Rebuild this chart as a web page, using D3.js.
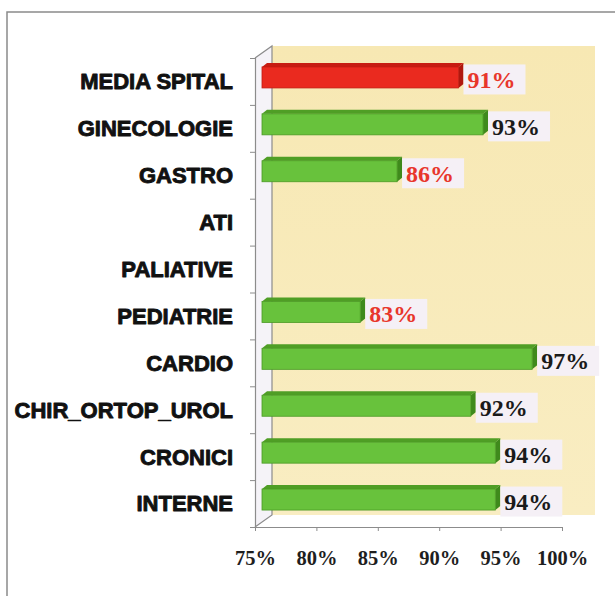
<!DOCTYPE html>
<html>
<head>
<meta charset="utf-8">
<script src="https://cdn.jsdelivr.net/npm/d3@7"></script>
<style>
  html, body { margin: 0; padding: 0; background: #ffffff; }
  svg { display: block; }
</style>
</head>
<body>
<script>
// Sections, top to bottom, and their percentages (null = no value reported)
const categories = ["MEDIA SPITAL", "GINECOLOGIE", "GASTRO", "ATI", "PALIATIVE",
                    "PEDIATRIE", "CARDIO", "CHIR_ORTOP_UROL", "CRONICI", "INTERNE"];
const values = [0.91, 0.93, 0.86, null, null, 0.83, 0.97, 0.92, 0.94, 0.94];
// Which bar is the hospital average (drawn red)
const highlight = ["MEDIA SPITAL"];
// Labels shown in red (below target)
const redLabels = ["MEDIA SPITAL", "GASTRO", "PEDIATRIE"];
const xTicks = [0.75, 0.80, 0.85, 0.90, 0.95, 1.00];

const W = 615, H = 596;
const svg = d3.select("body").append("svg").attr("width", W).attr("height", H);

// outer frame
svg.append("rect").attr("x", 7).attr("y", 12).attr("width", 640).attr("height", 620)
  .attr("fill", "none").attr("stroke", "#8a8a8a").attr("stroke-width", 1.5);

const x = d3.scaleLinear().domain([0.75, 1.0]).range([255, 562]);
const y = d3.scaleBand().domain(categories).range([58, 527]).padding(0);

// 3D depth of the plot box
const DX = 17, DY = 12;
const x0 = x.range()[0], x1 = x.range()[1];
const yTop = y.range()[0], yBot = y.range()[1];

const defs = svg.append("defs");
const wall = defs.append("linearGradient").attr("id", "wall").attr("x1", 0).attr("y1", 0).attr("x2", 0).attr("y2", 1);
wall.append("stop").attr("offset", "0%").attr("stop-color", "#f7e8b3");
wall.append("stop").attr("offset", "100%").attr("stop-color", "#f9edc2");

// side wall
svg.append("path")
  .attr("d", `M${x0},${yTop} L${x0 + DX},${yTop - DY} L${x0 + DX},${yBot - DY} L${x0},${yBot} Z`)
  .attr("fill", "#f5f3f8");
// back wall
svg.append("rect")
  .attr("x", x0 + DX).attr("y", yTop - DY)
  .attr("width", x1 + DX + 16 - (x0 + DX)).attr("height", yBot - yTop)
  .attr("fill", "url(#wall)");
// wall edges
svg.append("path")
  .attr("d", `M${x0},${yTop} L${x0 + DX},${yTop - DY} L${x0 + DX},${yBot - DY} L${x0},${yBot}`)
  .attr("fill", "none").attr("stroke", "#8c8c8c").attr("stroke-width", 1.2);

// left axis at category boundaries
const yb = d3.scaleLinear().domain([0, categories.length]).range([yTop, yBot]);
const leftAxis = svg.append("g").attr("transform", `translate(${x0},0)`)
  .call(d3.axisLeft(yb).ticks(categories.length).tickSize(5).tickFormat(""));
leftAxis.select(".domain").attr("stroke", "#8c8c8c").attr("stroke-width", 1.2);
leftAxis.selectAll(".tick line").attr("stroke", "#8c8c8c");

// bottom axis
const bottomAxis = svg.append("g").attr("transform", `translate(0,${yBot})`)
  .call(d3.axisBottom(x).tickValues(xTicks).tickSize(4).tickSizeOuter(0).tickFormat(d3.format(".0%")));
bottomAxis.select(".domain").attr("stroke", "#8c8c8c").attr("stroke-width", 1.2);
bottomAxis.selectAll(".tick line").attr("stroke", "#8c8c8c");
bottomAxis.selectAll(".tick text")
  .attr("y", 23).attr("dy", "0.71em")
  .attr("font-family", "'Liberation Serif', 'Times New Roman', serif")
  .attr("font-weight", "bold").attr("font-size", 20.5).attr("fill", "#1e1e1e");

// category labels (heavy sans)
svg.append("g").selectAll("text").data(categories).join("text")
  .attr("x", 233)
  .attr("y", d => y(d) + y.bandwidth() / 2)
  .attr("dy", "0.36em")
  .attr("text-anchor", "end")
  .attr("font-family", "'Liberation Sans', Arial, sans-serif")
  .attr("font-weight", "bold").attr("font-size", 22)
  .attr("fill", "#111").attr("stroke", "#111").attr("stroke-width", 0.9)
  .attr("stroke-linejoin", "round")
  .text(d => d);

// bars (3D boxes at mid depth)
const bx = 7, by = -4, bh = 21, d = 5, dd = 4;
const data = categories.map((c, i) => ({ c, v: values[i] })).filter(o => o.v != null);

const palette = {
  green: { front: "#68c23c", top: "#4f9e25", end: "#3f8a1c", edge: "#4a9a24" },
  red:   { front: "#ea2a1f", top: "#c71c12", end: "#b0170e", edge: "#c21b12" }
};

const gBars = svg.append("g");
data.forEach(o => {
  const p = highlight.includes(o.c) ? palette.red : palette.green;
  const L = x0 + bx, R = x(o.v) + bx;
  const T = y(o.c) + y.bandwidth() / 2 + by - bh / 2;
  const g = gBars.append("g");
  g.append("path")
    .attr("d", `M${L},${T} L${L + d},${T - dd} L${R + d},${T - dd} L${R},${T} Z`)
    .attr("fill", p.top);
  g.append("path")
    .attr("d", `M${R},${T} L${R + d},${T - dd} L${R + d},${T + bh - dd} L${R},${T + bh} Z`)
    .attr("fill", p.end);
  g.append("rect")
    .attr("x", L).attr("y", T).attr("width", R - L).attr("height", bh)
    .attr("fill", p.front).attr("stroke", p.edge).attr("stroke-width", 0.8);
});

// value labels with light boxes
const gLab = svg.append("g");
data.forEach(o => {
  const R = x(o.v) + bx + d;
  const cy = y(o.c) + y.bandwidth() / 2 - 2;
  gLab.append("rect")
    .attr("x", R).attr("y", cy - 15).attr("width", 62).attr("height", 30)
    .attr("fill", "#f5f0f6");
  gLab.append("text")
    .attr("x", R + 4).attr("y", cy).attr("dy", "0.35em")
    .attr("font-family", "'Liberation Serif', 'Times New Roman', serif")
    .attr("font-weight", "bold").attr("font-size", 24)
    .attr("fill", redLabels.includes(o.c) ? "#e8362b" : "#1a1a1a")
    .text(d3.format(".0%")(o.v));
});
</script>
</body>
</html>
